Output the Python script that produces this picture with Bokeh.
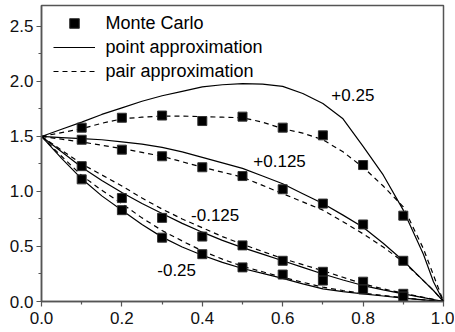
from bokeh.plotting import figure
from bokeh.models import Range1d, Legend, LegendItem, FixedTicker, PrintfTickFormatter
from bokeh.core.properties import value
from bokeh.embed import file_html
from bokeh.resources import INLINE

# ---- data ----
x_curve = [0.0, 0.05, 0.1, 0.15, 0.2, 0.25, 0.3, 0.35, 0.4, 0.45, 0.5,
           0.55, 0.6, 0.65, 0.7, 0.75, 0.8, 0.85, 0.9, 0.95, 0.975, 1.0]

# point approximation (solid)
point_p250 = [1.50, 1.565, 1.63, 1.70, 1.76, 1.82, 1.87, 1.91, 1.95, 1.97, 1.98,
              1.975, 1.955, 1.89, 1.80, 1.66, 1.41, 1.15, 0.83, 0.43, 0.18, 0.0]
point_p125 = [1.50, 1.49, 1.48, 1.47, 1.45, 1.43, 1.40, 1.36, 1.31, 1.26, 1.21,
              1.14, 1.07, 0.98, 0.89, 0.785, 0.675, 0.53, 0.37, 0.19, 0.10, 0.0]
point_m125 = [1.50, 1.36, 1.22, 1.10, 0.99, 0.89, 0.80, 0.71, 0.63, 0.555, 0.49,
              0.43, 0.37, 0.31, 0.25, 0.195, 0.145, 0.105, 0.07, 0.035, 0.018, 0.0]
point_m250 = [1.50, 1.30, 1.115, 0.96, 0.83, 0.70, 0.585, 0.495, 0.42, 0.355, 0.30,
              0.255, 0.21, 0.16, 0.115, 0.09, 0.07, 0.05, 0.03, 0.015, 0.008, 0.0]

# pair approximation (dashed)
pair_p250 = [1.50, 1.535, 1.57, 1.62, 1.66, 1.675, 1.685, 1.685, 1.68, 1.675, 1.67,
             1.63, 1.57, 1.53, 1.47, 1.36, 1.22, 1.05, 0.86, 0.48, 0.24, 0.0]
pair_p125 = [1.50, 1.475, 1.45, 1.42, 1.39, 1.355, 1.32, 1.27, 1.22, 1.175, 1.13,
             1.055, 0.98, 0.905, 0.83, 0.725, 0.615, 0.495, 0.36, 0.19, 0.10, 0.0]
pair_m125 = [1.50, 1.375, 1.25, 1.15, 1.05, 0.94, 0.84, 0.75, 0.67, 0.59, 0.52,
             0.455, 0.39, 0.335, 0.28, 0.22, 0.16, 0.115, 0.075, 0.038, 0.02, 0.0]
pair_m250 = [1.50, 1.32, 1.145, 1.01, 0.89, 0.76, 0.645, 0.55, 0.46, 0.385, 0.32,
             0.27, 0.22, 0.175, 0.13, 0.10, 0.075, 0.055, 0.035, 0.015, 0.008, 0.0]

# Monte Carlo points
mc_x = [0.1, 0.2, 0.3, 0.4, 0.5, 0.6, 0.7, 0.8, 0.9]
mc_p250 = [1.58, 1.67, 1.69, 1.64, 1.68, 1.58, 1.51, 1.24, 0.78]
mc_p125 = [1.47, 1.38, 1.32, 1.22, 1.14, 1.02, 0.89, 0.70, 0.37]
mc_m125 = [1.23, 0.94, 0.76, 0.59, 0.51, 0.37, 0.27, 0.18, 0.07]
mc_m250 = [1.11, 0.83, 0.58, 0.43, 0.31, 0.245, 0.19, 0.11, 0.045]

# curve labels
lab_text = ["+0.25", "+0.125", "-0.125", "-0.25"]
lab_x = [0.721, 0.527, 0.372, 0.288]
lab_y = [1.875, 1.275, 0.79, 0.29]

x_ticks = [0.0, 0.2, 0.4, 0.6, 0.8, 1.0]
x_minor = [0.1, 0.3, 0.5, 0.7, 0.9]
y_ticks = [0.0, 0.5, 1.0, 1.5, 2.0, 2.5]
y_minor = [0.25, 0.75, 1.25, 1.75, 2.25]

FONT = "Liberation Sans"
AX = "#555555"

p = figure(frame_width=402, frame_height=296,
           x_range=Range1d(0, 1.0), y_range=Range1d(0, 2.69),
           output_backend="svg", toolbar_location=None,
           min_border_left=41, min_border_right=11, min_border_top=5, min_border_bottom=28)
p.xgrid.visible = False
p.ygrid.visible = False
p.outline_line_color = AX
p.outline_line_width = 1.5

for ax, t, m in ((p.xaxis[0], x_ticks, x_minor), (p.yaxis[0], y_ticks, y_minor)):
    ax.ticker = FixedTicker(ticks=t, minor_ticks=m)
    ax.formatter = PrintfTickFormatter(format="%.1f")
    ax.axis_line_color = AX
    ax.axis_line_width = 1.5
    ax.major_tick_line_color = AX
    ax.minor_tick_line_color = AX
    ax.major_tick_line_width = 1.2
    ax.minor_tick_line_width = 1.2
    ax.major_tick_in = 0
    ax.major_tick_out = 5
    ax.minor_tick_in = 0
    ax.minor_tick_out = 3
    ax.major_label_text_font = FONT
    ax.major_label_text_font_size = "17px"
    ax.major_label_text_color = "#111111"
    ax.major_label_standoff = 3
p.xaxis[0].major_label_standoff = 5

solid = []
for ys in (point_p250, point_p125, point_m125, point_m250):
    solid.append(p.line(x_curve, ys, line_color="black", line_width=1.2))
dashed = []
for ys in (pair_p250, pair_p125, pair_m125, pair_m250):
    dashed.append(p.line(x_curve, ys, line_color="black", line_width=1.2, line_dash="5 4"))

mc_all_x = mc_x * 4
mc_all_y = mc_p250 + mc_p125 + mc_m125 + mc_m250
sq = p.scatter(mc_all_x, mc_all_y, marker="square", size=9,
               fill_color="black", line_color="#333333", line_width=1)

p.text(x=lab_x, y=lab_y, text=lab_text, text_font=value(FONT),
       text_font_size=value("17px"), text_color="black",
       text_align="left", text_baseline="alphabetic")

legend = Legend(items=[LegendItem(label="Monte Carlo", renderers=[sq], index=0),
                       LegendItem(label="point approximation", renderers=[solid[0]]),
                       LegendItem(label="pair approximation", renderers=[dashed[0]])],
                location=(5.5, 212))
legend.border_line_alpha = 0
legend.background_fill_alpha = 0
legend.label_text_font = FONT
legend.label_text_font_size = "18px"
legend.label_text_color = "black"
legend.glyph_width = 42
legend.glyph_height = 24
legend.label_height = 18
legend.label_standoff = 11
legend.spacing = -2
legend.padding = 6
legend.margin = 0
p.add_layout(legend)

open("out.html", "w").write(file_html(p, INLINE))
